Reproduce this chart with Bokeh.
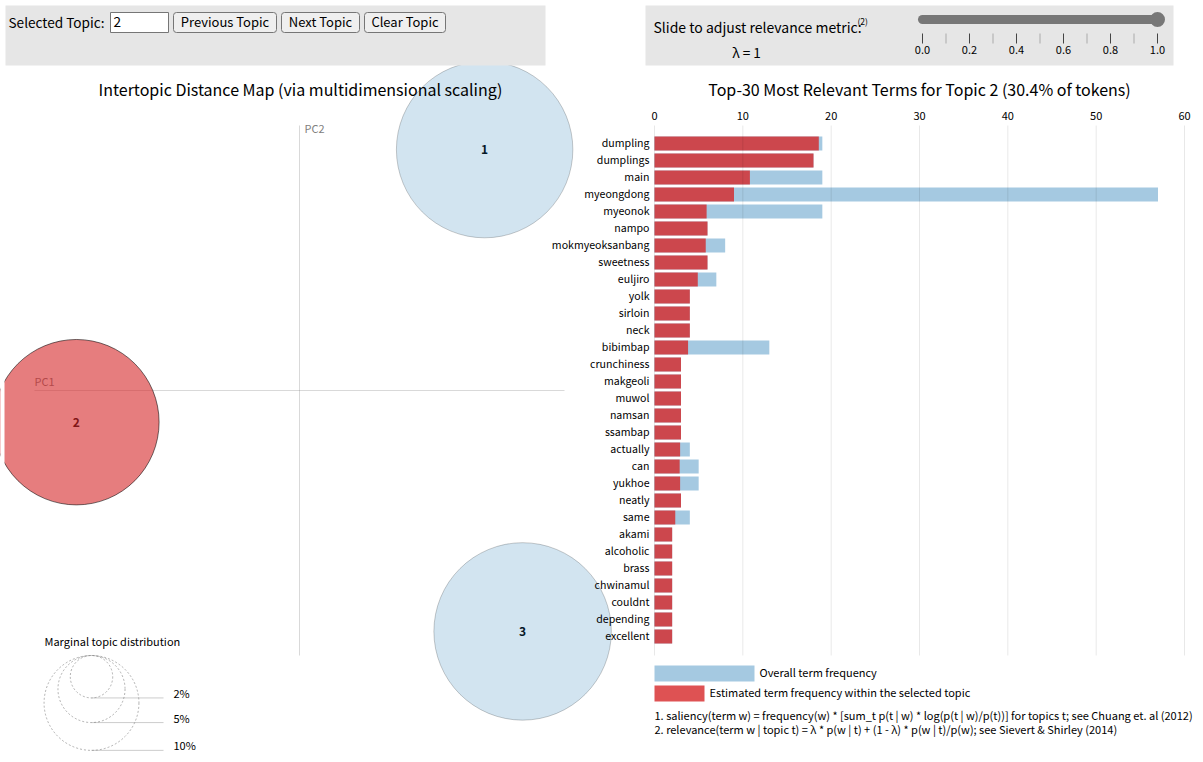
import numpy as np
from bokeh.plotting import figure
from bokeh.models import Range1d
from bokeh.core.properties import value
from bokeh.embed import file_html
from bokeh.resources import INLINE

# ---------------- data ----------------
topic_ids = ["1", "2", "3"]
mds_x = [0.1235, -0.2849, 0.1615]
mds_y = [0.2516, -0.0211, -0.2304]
topic_freq = [34.6, 30.4, 35.0]          # % of tokens
selected_topic = 2
lambda_value = 1.0

terms = ["dumpling", "dumplings", "main", "myeongdong", "myeonok", "nampo",
         "mokmyeoksanbang", "sweetness", "euljiro", "yolk", "sirloin", "neck",
         "bibimbap", "crunchiness", "makgeoli", "muwol", "namsan", "ssambap",
         "actually", "can", "yukhoe", "neatly", "same", "akami", "alcoholic",
         "brass", "chwinamul", "couldnt", "depending", "excellent"]
term_total = [19, 18, 19, 57, 19, 6, 8, 6, 7, 4, 4, 4, 13, 3, 3, 3, 3, 3,
              4, 5, 5, 3, 4, 2, 2, 2, 2, 2, 2, 2]
term_est = [18.6, 18.0, 10.8, 9.0, 5.9, 6.0, 5.8, 6.0, 4.9, 4.0, 4.0, 4.0,
            3.8, 3.0, 3.0, 3.0, 3.0, 3.0, 2.9, 2.85, 2.9, 3.0, 2.35, 2.0,
            2.0, 2.0, 2.0, 2.0, 2.0, 2.0]
bar_ticks = [0, 10, 20, 30, 40, 50, 60]
slider_ticks = [0.0, 0.1, 0.2, 0.3, 0.4, 0.5, 0.6, 0.7, 0.8, 0.9, 1.0]
slider_labels = ["0.0", "0.2", "0.4", "0.6", "0.8", "1.0"]
marginal_sizes = [2, 5, 10]              # % legend circles
marginal_labels = ["2%", "5%", "10%"]

# ---------------- layout constants ----------------
W, H = 1203, 762
MDS_L, MDS_T, MDS_SIZE = 34, 125, 530
BAR_L, BAR_W = 654, 530
BAR_STEP, BAR_H, BAR_OFF = 17, 14, 11
R_MAX = 150.0
FONT = "Noto Sans CJK KR"
F = value(FONT)

p = figure(width=W, height=H, x_range=Range1d(0, W), y_range=Range1d(H, 0),
           output_backend="svg", toolbar_location=None, min_border=0,
           x_axis_type=None, y_axis_type=None)
p.outline_line_color = None
p.background_fill_color = "white"
p.border_fill_color = "white"

# ---- MDS scales (LDAvis logic) ----
xmin, xmax = min(mds_x), max(mds_x)
ymin, ymax = min(mds_y), max(mds_y)
xdiff, ydiff = xmax - xmin, ymax - ymin
pad = 0.05
if xdiff > ydiff:
    dx0, dx1 = xmin - pad * xdiff, xmax + pad * xdiff
    dy0 = ymin - 0.5 * (xdiff - ydiff) - pad * xdiff
    dy1 = ymax + 0.5 * (xdiff - ydiff) + pad * xdiff
else:
    dy0, dy1 = ymin - pad * ydiff, ymax + pad * ydiff
    dx0 = xmin - 0.5 * (ydiff - xdiff) - pad * ydiff
    dx1 = xmax + 0.5 * (ydiff - xdiff) + pad * ydiff
ux = (dx1 - dx0) / MDS_SIZE
uy = (dy1 - dy0) / MDS_SIZE
bu = bar_ticks[-1] / BAR_W
c0 = MDS_T + BAR_OFF + BAR_H / 2.0
su = 1.0 / 235.0
p.extra_x_ranges = {
    "mx": Range1d(dx0 - MDS_L * ux, dx0 + (W - MDS_L) * ux),
    "bx": Range1d(-BAR_L * bu, (W - BAR_L) * bu),
    "sx": Range1d(-922 * su, (W - 922) * su),
}
p.extra_y_ranges = {
    "my": Range1d(dy1 - (H - MDS_T) * uy, dy1 + MDS_T * uy),
    "by": Range1d((H - c0) / BAR_STEP, -c0 / BAR_STEP),
}

# ---- MDS axes ----
xm, ym = (dx0 + dx1) / 2.0, (dy0 + dy1) / 2.0
p.segment(x0=[dx0, xm], y0=[ym, dy0], x1=[dx1, xm], y1=[ym, dy1],
          line_color="gray", line_alpha=0.3, line_width=1,
          x_range_name="mx", y_range_name="my")
p.text(x=[dx0], y=[ym], text=["PC1"], text_font=F, text_font_size="11px",
       text_color="gray", text_baseline="middle", y_offset=-10,
       x_range_name="mx", y_range_name="my")
p.text(x=[xm], y=[dy1], text=["PC2"], text_font=F, text_font_size="11px",
       text_color="gray", text_baseline="middle", x_offset=5, y_offset=2,
       x_range_name="mx", y_range_name="my")

# topic labels (under circles)
p.text(x=mds_x, y=mds_y, text=topic_ids, text_font=F, text_font_size="12px",
       text_font_style="bold", text_color="black", text_align="center",
       text_baseline="middle", x_range_name="mx", y_range_name="my")

radii = [R_MAX * np.sqrt(f / 100.0) for f in topic_freq]
sel = [int(t) == selected_topic for t in topic_ids]
fills = ["#d62728" if s else "#1f77b4" for s in sel]
falpha = [0.6 if s else 0.2 for s in sel]
lalpha = [0.55 if s else 0.2 for s in sel]
p.circle(x=mds_x, y=mds_y, radius=radii, radius_units="screen",
         fill_color=fills, fill_alpha=falpha, line_color="black",
         line_alpha=lalpha, line_width=1,
         x_range_name="mx", y_range_name="my")

# ---- marginal topic distribution legend ----
cx, ctop = 91, MDS_T + MDS_SIZE
lr = [R_MAX * np.sqrt(s / 100.0) for s in marginal_sizes]
p.circle(x=[cx] * 3, y=[ctop + r for r in lr], radius=lr, radius_units="screen",
         fill_color=None, line_color="gray", line_alpha=0.6,
         line_dash="2 2", line_width=1)
p.segment(x0=[cx] * 3, y0=[ctop + 2 * r for r in lr], x1=[cx + 72] * 3,
          y1=[ctop + 2 * r for r in lr], line_color="gray", line_alpha=0.4)
p.text(x=[cx + 82] * 3, y=[ctop + 2 * r - 5 for r in lr], text=marginal_labels,
       text_font=F, text_font_size="11px", text_color="black",
       text_baseline="middle")
p.text(x=[44], y=[640], text=["Marginal topic distribution"], text_font=F,
       text_font_size="11px", text_color="black", text_baseline="middle")

# ---- bar chart ----
idx = list(range(len(terms)))
bh = BAR_H / BAR_STEP
p.hbar(y=idx, left=0, right=term_total, height=bh, fill_color="#1f77b4",
       fill_alpha=0.4, line_color=None, x_range_name="bx", y_range_name="by")
p.hbar(y=idx, left=0, right=term_est, height=bh, fill_color="#d62728",
       fill_alpha=0.8, line_color=None, x_range_name="bx", y_range_name="by")
n = len(terms)
p.segment(x0=bar_ticks, x1=bar_ticks, y0=[MDS_T] * len(bar_ticks),
          y1=[MDS_T + MDS_SIZE] * len(bar_ticks), line_color="black",
          line_alpha=0.09, line_width=1, x_range_name="bx")
p.text(x=bar_ticks, y=[115] * len(bar_ticks), text=[str(t) for t in bar_ticks],
       text_font=F, text_font_size="11px", text_color="black",
       text_align="center", text_baseline="middle", x_range_name="bx")
p.text(x=[0] * n, y=idx, text=terms, text_font=F, text_font_size="10.6px",
       text_color="black", text_align="right", text_baseline="middle",
       x_offset=-5, y_offset=-1, x_range_name="bx", y_range_name="by")

# legend of bar chart
p.quad(left=[654], right=[754], top=[665], bottom=[681], fill_color="#1f77b4",
       fill_alpha=0.4, line_color=None)
p.quad(left=[654], right=[704], top=[685], bottom=[701], fill_color="#d62728",
       fill_alpha=0.8, line_color=None)
p.text(x=[759, 709], y=[671, 691],
       text=["Overall term frequency",
             "Estimated term frequency within the selected topic"],
       text_font=F, text_font_size="11px", text_color="black",
       text_baseline="middle")
p.text(x=[654, 654], y=[714, 728],
       text=["1. saliency(term w) = frequency(w) * [sum_t p(t | w) * log(p(t | w)/p(t))] for topics t; see Chuang et. al (2012)",
             "2. relevance(term w | topic t) = \u03bb * p(w | t) + (1 - \u03bb) * p(w | t)/p(w); see Sievert & Shirley (2014)"],
       text_font=F, text_font_size="11px", text_color="black",
       text_baseline="middle")

# ---- titles ----
sel_freq = topic_freq[topic_ids.index(str(selected_topic))]
p.text(x=[300, 919], y=[88, 88],
       text=["Intertopic Distance Map (via multidimensional scaling)",
             "Top-%d Most Relevant Terms for Topic %d (%.1f%% of tokens)"
             % (len(terms), selected_topic, sel_freq)],
       text_font=F, text_font_size="16px", text_color="black",
       text_align="center", text_baseline="middle")

# white margin strip at left
p.quad(left=[0], right=[4], top=[65], bottom=[H], fill_color="white",
       line_color=None)

# ---- top control panels ----
p.quad(left=[5, 645], right=[545, 1173], top=[5, 5], bottom=[65, 65],
       fill_color="#e6e6e6", line_color=None)
p.text(x=[8], y=[21], text=["Selected Topic:"], text_font=F,
       text_font_size="13.6px", text_color="black", text_baseline="middle")
p.quad(left=[110], right=[168], top=[12], bottom=[32], fill_color="white",
       line_color="#767676", line_width=1)
p.text(x=[113], y=[21], text=[str(selected_topic)], text_font=F,
       text_font_size="13.6px", text_color="black", text_baseline="middle")
btn_text = ["Previous Topic", "Next Topic", "Clear Topic"]
btn_l = [173, 281, 364]
btn_r = [276, 359, 445]
p.quad(left=btn_l, right=btn_r, top=[12] * 3, bottom=[32] * 3,
       fill_color="#efefef", line_color="#767676", line_width=1,
       border_radius=3)
p.text(x=[(a + b) / 2 for a, b in zip(btn_l, btn_r)], y=[21] * 3,
       text=btn_text, text_font=F, text_font_size="13px", text_color="black",
       text_align="center", text_baseline="middle")

p.text(x=[653], y=[26], text=["Slide to adjust relevance metric:"],
       text_font=F, text_font_size="14px", text_color="black",
       text_baseline="middle")
p.text(x=[857], y=[20], text=["(2)"], text_font=F, text_font_size="8.5px",
       text_color="black", text_baseline="middle")
p.text(x=[746], y=[51], text=["\u03bb = %g" % lambda_value], text_font=F,
       text_font_size="13.6px", text_color="black", text_align="center",
       text_baseline="middle")

# slider
p.segment(x0=[slider_ticks[0]], x1=[lambda_value], y0=[19], y1=[19],
          line_color="#777777", line_width=9, line_cap="round",
          x_range_name="sx")
p.circle(x=[lambda_value], y=[19], radius=7.5, radius_units="screen",
         fill_color="#777777", line_color=None, x_range_name="sx")
major = [t for i, t in enumerate(slider_ticks) if i % 2 == 0]
minor = [t for i, t in enumerate(slider_ticks) if i % 2 == 1]
p.segment(x0=major, x1=major, y0=[33] * len(major), y1=[43] * len(major),
          line_color="#444444", line_width=1, x_range_name="sx")
p.segment(x0=minor, x1=minor, y0=[33] * len(minor), y1=[43] * len(minor),
          line_color="#c8c8c8", line_width=2, x_range_name="sx")
p.text(x=major, y=[49] * len(major), text=slider_labels, text_font=F,
       text_font_size="11px", text_color="black", text_align="center",
       text_baseline="middle", x_range_name="sx")

open("out.html", "w").write(file_html(p, INLINE))
